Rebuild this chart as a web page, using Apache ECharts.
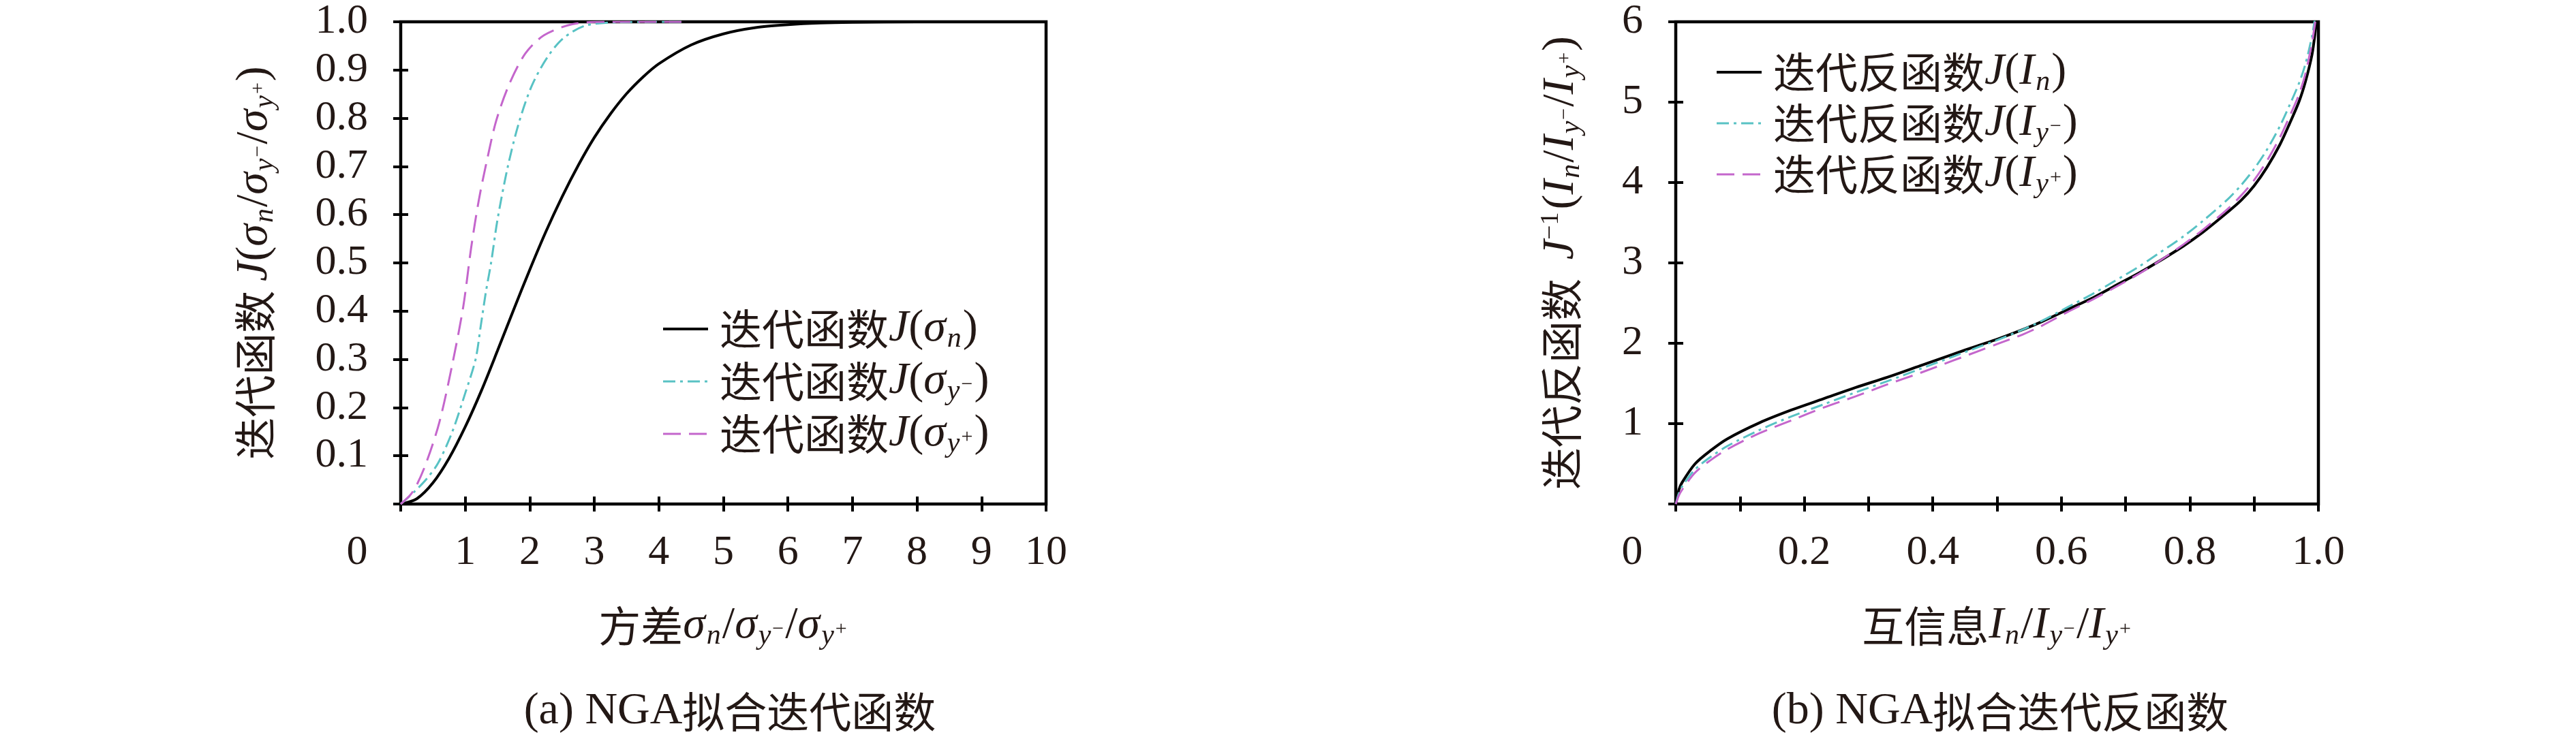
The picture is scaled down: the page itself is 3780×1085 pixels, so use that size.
<!DOCTYPE html>
<html><head><meta charset="utf-8">
<script src="https://cdn.jsdelivr.net/npm/echarts@6/dist/echarts.min.js"></script>
<style>html,body{margin:0;padding:0;background:#fff}#c{width:3780px;height:1085px}</style>
</head><body><div id="c"></div>
<script>
// ---------- data ----------
// (a) iterative function J(sigma)
const sigmaN   = [0,0.25,0.5,0.75,1.0,1.25,1.5,1.75,2.0,2.25,2.5,2.75,3.0,3.25,3.5,3.75,4.0,4.5,5.0,5.5,6.0,6.5,7.0,8.0,10.0];
const jN       = [0,0.011,0.044,0.095,0.16,0.235,0.318,0.403,0.486,0.565,0.637,0.702,0.76,0.809,0.851,0.885,0.913,0.952,0.975,0.988,0.994,0.9975,0.999,1.0,1.0];
const sigmaYm  = [0,0.2,0.4,0.58,0.8,1.0,1.16,1.24,1.32,1.4,1.5,1.66,1.83,2.03,2.27,2.52,2.86,3.35,4.35];
const jYm      = [0,0.024,0.052,0.085,0.15,0.23,0.3,0.369,0.44,0.5,0.59,0.70,0.79,0.867,0.926,0.966,0.992,0.999,1.0];
const sigmaYp  = [0,0.15,0.25,0.4,0.6,0.8,0.97,1.09,1.21,1.34,1.48,1.68,1.93,2.22,2.66,3.2,4.35];
const jYp      = [0,0.019,0.04,0.087,0.17,0.29,0.41,0.53,0.63,0.715,0.795,0.87,0.934,0.972,0.995,1.0,1.0];
// (b) inverse function J^-1(I)
const mutualI  = [0,0.005,0.01,0.03,0.055,0.08,0.13,0.18,0.23,0.28,0.33,0.38,0.43,0.47,0.5,0.54,0.57,0.61,0.65,0.68,0.72,0.75,0.79,0.82,0.86,0.88,0.90,0.92,0.94,0.955,0.97,0.98,0.99,0.995,0.998];
const invN     = [0,0.18,0.27,0.50,0.67,0.81,1.01,1.17,1.31,1.45,1.58,1.72,1.86,1.97,2.05,2.17,2.27,2.42,2.57,2.70,2.87,3.01,3.21,3.38,3.64,3.78,3.96,4.19,4.47,4.73,5.01,5.26,5.59,5.87,6.1];
const invYm    = [0,0.14,0.22,0.43,0.59,0.72,0.92,1.09,1.24,1.39,1.53,1.68,1.83,1.95,2.04,2.17,2.28,2.45,2.62,2.76,2.95,3.11,3.33,3.52,3.80,3.97,4.17,4.41,4.70,4.96,5.24,5.48,5.82,6.06,6.2];
const invYp    = [0,0.11,0.18,0.39,0.55,0.68,0.88,1.04,1.20,1.34,1.49,1.63,1.78,1.90,1.99,2.11,2.22,2.39,2.55,2.68,2.86,3.01,3.23,3.41,3.68,3.84,4.03,4.27,4.56,4.82,5.10,5.36,5.74,5.99,6.15];
// tick settings
const xTicksA = {min:0, max:10, interval:1};
const yTicksA = {min:0, max:1, interval:0.1};
const xTicksB = {min:0, max:1, interval:0.1};
const yTicksB = {min:0, max:6, interval:1};

// ---------- styling ----------
const TXT = '#231815';
const CJK = "'Noto Sans CJK SC'";
const SER = "'Liberation Serif'";
const CYAN = '#58c2c4', MAG = '#c466cc';
const R = {
  cn:  {fontFamily:CJK, fontSize:62, lineHeight:72, color:TXT, fontWeight:'normal', verticalAlign:'middle'},
  it:  {fontFamily:SER, fontStyle:'italic', fontSize:66, lineHeight:72, color:TXT, fontWeight:'normal', verticalAlign:'middle'},
  rm:  {fontFamily:SER, fontSize:66, lineHeight:72, color:TXT, fontWeight:'normal', verticalAlign:'middle'},
  sub: {fontFamily:SER, fontStyle:'italic', fontSize:42, lineHeight:42, color:TXT, fontWeight:'normal', verticalAlign:'bottom', padding:[0,2,0,2]},
  sup: {fontFamily:SER, fontSize:30, lineHeight:30, color:TXT, fontWeight:'normal', verticalAlign:'bottom', padding:[0,2,16,0]},
  sup1:{fontFamily:SER, fontSize:38, lineHeight:38, color:TXT, fontWeight:'normal', verticalAlign:'top', padding:[2,4,0,0]},
  gap: {fontFamily:CJK, fontSize:62, lineHeight:72, color:TXT, fontWeight:'normal', verticalAlign:'middle', padding:[0,0,0,12]}
};
const zip = (a,b)=>a.map((v,i)=>[v,b[i]]);

const tickStyle = {show:true, inside:true, length:11, lineStyle:{color:'#000', width:4}};
const labelBase = {fontFamily:SER, fontSize:62, color:TXT, fontWeight:'normal'};

function mkAxes(g, xt, yt, xfmt, yfmt){
  const xs = [
    Object.assign({type:'value', gridIndex:g, position:'bottom', axisLine:{show:false}, axisTick:tickStyle, splitLine:{show:false},
      axisLabel:Object.assign({}, labelBase, {margin:72, verticalAlign:'middle', showMinLabel:true, showMaxLabel:true, formatter:xfmt,
        rich:{z:{fontFamily:SER, fontSize:62, color:TXT, padding:[0,128,0,0]}}})}, xt),
    Object.assign({type:'value', gridIndex:g, position:'top', axisLine:{show:false}, axisTick:tickStyle, splitLine:{show:false}, axisLabel:{show:false}}, xt)
  ];
  const ys = [
    Object.assign({type:'value', gridIndex:g, position:'left', axisLine:{show:false}, axisTick:tickStyle, splitLine:{show:false},
      axisLabel:Object.assign({}, labelBase, {margin:48, showMinLabel:true, showMaxLabel:true, formatter:yfmt})}, yt),
    Object.assign({type:'value', gridIndex:g, position:'right', axisLine:{show:false}, axisTick:tickStyle, splitLine:{show:false}, axisLabel:{show:false}}, yt)
  ];
  return {xs, ys};
}
const A = mkAxes(0, xTicksA, yTicksA,
  v => Math.round(v)===0 ? '{z|0}' : String(Math.round(v)),
  v => Math.round(v*10)===0 ? '' : v.toFixed(1));
const B = mkAxes(1, xTicksB, yTicksB,
  v => { const r=Math.round(v*10); if(r===0) return '{z|0}'; return r%2===0 ? (r/10).toFixed(1) : ''; },
  v => Math.round(v)===0 ? '' : String(Math.round(v)));

// axis names
A.xs[0].name = '{cn|方差}{it|σ}{sub|n}{rm|/}{it|σ}{sub|y}{sup|−}{rm|/}{it|σ}{sub|y}{sup|+}';
A.xs[0].nameLocation='middle'; A.xs[0].nameGap=143; A.xs[0].nameTextStyle={rich:R};
A.ys[0].name = '{cn|迭代函数 }{it|J}{rm|(}{it|σ}{sub|n}{rm|/}{it|σ}{sub|y}{sup|−}{rm|/}{it|σ}{sub|y}{sup|+}{rm|)}';
A.ys[0].nameLocation='middle'; A.ys[0].nameRotate=90; A.ys[0].nameGap=178; A.ys[0].nameTextStyle={rich:R};
B.xs[0].name = '{cn|互信息}{it|I}{sub|n}{rm|/}{it|I}{sub|y}{sup|−}{rm|/}{it|I}{sub|y}{sup|+}';
B.xs[0].nameLocation='middle'; B.xs[0].nameGap=143; B.xs[0].nameTextStyle={rich:R};
B.ys[0].name = '{cn|迭代反函数  }{it|J}{sup1|−1}{rm|(}{it|I}{sub|n}{rm|/}{it|I}{sub|y}{sup|−}{rm|/}{it|I}{sub|y}{sup|+}{rm|)}';
B.ys[0].nameLocation='middle'; B.ys[0].nameRotate=90; B.ys[0].nameGap=132; B.ys[0].nameTextStyle={rich:R};

const gridBase = {show:true, borderColor:'#000', borderWidth:4.5, backgroundColor:'transparent', containLabel:false};
const names = {
  a1:'{gap|迭代函数}{it|J}{rm|(}{it|σ}{sub|n}{rm|)}',
  a2:'{gap|迭代函数}{it|J}{rm|(}{it|σ}{sub|y}{sup|−}{rm|)}',
  a3:'{gap|迭代函数}{it|J}{rm|(}{it|σ}{sub|y}{sup|+}{rm|)}',
  b1:'{gap|迭代反函数}{it|J}{rm|(}{it|I}{sub|n}{rm|)}',
  b2:'{gap|迭代反函数}{it|J}{rm|(}{it|I}{sub|y}{sup|−}{rm|)}',
  b3:'{gap|迭代反函数}{it|J}{rm|(}{it|I}{sub|y}{sup|+}{rm|)}'
};
function ser(name, g, data, color, width, dash){
  return {name, type:'line', xAxisIndex:g*2, yAxisIndex:g*2, data, symbol:'none', showSymbol:false,
    smooth:0.3, animation:false,
    lineStyle:{color, width, type:dash}, itemStyle:{color}};
}
const legendBase = {orient:'vertical', selectedMode:false, itemWidth:66, itemHeight:2,
  itemStyle:{opacity:0, borderWidth:0},
  lineStyle:{width:'inherit', type:'inherit', color:'inherit'},
  formatter:n=>names[n], textStyle:{rich:R, fontWeight:'normal'}};

const option = {
  animation:false,
  backgroundColor:'#fff',
  grid:[
    Object.assign({left:588, top:32, width:947, height:708}, gridBase),
    Object.assign({left:2459, top:32, width:943, height:708}, gridBase)
  ],
  xAxis:[A.xs[0], A.xs[1], B.xs[0], B.xs[1]],
  yAxis:[A.ys[0], A.ys[1], B.ys[0], B.ys[1]],
  legend:[
    Object.assign({left:966, top:445, itemGap:8, data:['a1','a2','a3']}, legendBase),
    Object.assign({left:2512, top:68, itemGap:6, data:['b1','b2','b3']}, legendBase)
  ],
  title:[
    {text:'{rm|(a) NGA}{cn|拟合迭代函数}', left:1066, top:1004, textAlign:'center', textStyle:{rich:R, fontWeight:'normal'}},
    {text:'{rm|(b) NGA}{cn|拟合迭代反函数}', left:2930, top:1004, textAlign:'center', textStyle:{rich:R, fontWeight:'normal'}}
  ],
  series:[
    ser('a1',0,zip(sigmaN,jN),'#000',4,'solid'),
    ser('a2',0,zip(sigmaYm,jYm),CYAN,3,[18,7,4,7]),
    ser('a3',0,zip(sigmaYp,jYp),MAG,3,[26,12]),
    ser('b1',1,zip(mutualI,invN),'#000',4,'solid'),
    ser('b2',1,zip(mutualI,invYm),CYAN,3,[18,7,4,7]),
    ser('b3',1,zip(mutualI,invYp),MAG,3,[26,12])
  ]
};
const chart = echarts.init(document.getElementById('c'), null, {renderer:'canvas'});
chart.setOption(option);
</script></body></html>
